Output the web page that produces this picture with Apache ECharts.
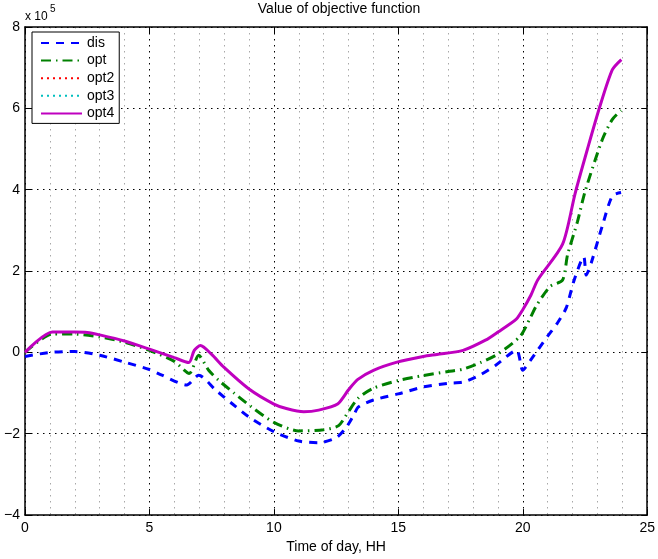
<!DOCTYPE html>
<html>
<head>
<meta charset="utf-8">
<script src="https://cdn.jsdelivr.net/npm/echarts@6/dist/echarts.min.js"></script>
<style>
html,body{margin:0;padding:0;background:#fff;}
#chart{width:658px;height:559px;}
</style>
</head>
<body>
<div id="chart"></div>
<script>
// ---- data (values in units of 1e5) ----
const seriesNames = ['dis', 'opt', 'opt2', 'opt3', 'opt4'];
const xTicks = [0, 5, 10, 15, 20, 25];
const yTicks = [-4, -2, 0, 2, 4, 6, 8];

const disHours = [0, 1, 2, 3, 4, 5, 5.5, 6.5, 6.98, 7.65, 8.3, 9, 10, 11, 11.8, 12.5, 12.9, 13.2, 13.4, 14, 15, 16, 17, 17.6, 18.3, 18.9, 19.75, 20.0, 20.3, 21, 21.4, 21.75, 22.05, 22.45, 22.55, 22.75, 23.2, 23.6, 23.95];
const disValues = [-0.1, 0.0, 0.02, -0.07, -0.24, -0.42, -0.56, -0.8, -0.56, -0.92, -1.25, -1.59, -1.95, -2.18, -2.22, -2.1, -1.85, -1.55, -1.34, -1.17, -1.02, -0.85, -0.76, -0.73, -0.55, -0.32, 0.05, -0.44, -0.2, 0.4, 0.73, 1.1, 1.75, 2.35, 1.9, 2.2, 3.12, 3.85, 3.93];

const optHours = [0, 1.1, 2, 3, 4, 5, 6, 6.6, 6.98, 7.38, 7.77, 8.4, 9.1, 10, 11, 12, 12.6, 13, 13.4, 14, 15, 16, 17, 17.6, 18.3, 19, 19.9, 20.3, 20.55, 21.1, 21.6, 21.8, 22.2, 22.5, 23.2, 23.6, 23.95];
const optValues = [0, 0.45, 0.45, 0.38, 0.25, 0.05, -0.22, -0.52, -0.07, -0.44, -0.68, -1.0, -1.34, -1.72, -1.93, -1.9, -1.8, -1.45, -1.12, -0.88, -0.69, -0.57, -0.47, -0.41, -0.25, -0.04, 0.4, 0.85, 1.15, 1.62, 1.78, 2.4, 3.22, 3.95, 5.24, 5.73, 5.95];

const opt4Hours = [0, 1.1, 2, 2.5, 3, 4, 5, 6, 6.58, 6.8, 7.05, 7.5, 8, 9, 10, 10.5, 11.2, 11.8, 12.56, 13, 13.36, 14, 14.95, 16, 16.55, 17.6, 18.5, 19, 19.74, 20.0, 20.33, 20.6, 21.6, 22.1, 22.6, 23.1, 23.6, 23.96];
const opt4Values = [0, 0.5, 0.5, 0.49, 0.43, 0.28, 0.08, -0.13, -0.25, 0.05, 0.17, -0.05, -0.37, -0.9, -1.27, -1.38, -1.46, -1.42, -1.27, -0.92, -0.67, -0.44, -0.24, -0.1, -0.05, 0.05, 0.3, 0.5, 0.82, 1.05, 1.41, 1.78, 2.66, 3.9, 5.0, 6.05, 6.95, 7.2];

// opt2 and opt3 coincide with opt4 (hidden beneath it)
const opt2Hours = opt4Hours.slice();
const opt2Values = opt4Values.slice();
const opt3Hours = opt4Hours.slice();
const opt3Values = opt4Values.slice();

function pairs(h, v) { return h.map((x, i) => [x, v[i]]); }

const FONT = '"Liberation Sans", Arial, Helvetica, sans-serif';
const chart = echarts.init(document.getElementById('chart'), null, {renderer: 'canvas'});

function minus(v) { return v < 0 ? '\u2212' + Math.abs(v) : String(v); }

function lineSeries(name, h, v, color, width, type, z) {
  return {
    name: name, type: 'line', symbol: 'none', showSymbol: false,
    smooth: 0.25,
    data: pairs(h, v),
    lineStyle: {color: color, width: width, type: type},
    itemStyle: {color: color, opacity: 0},
    z: z
  };
}

const option = {
  animation: false,
  backgroundColor: '#fff',
  textStyle: {fontFamily: FONT},
  title: {
    text: 'Value of objective function',
    left: 339, top: 2, textAlign: 'center', padding: 0,
    textStyle: {fontFamily: FONT, fontSize: 14, fontWeight: 'normal', color: '#000'}
  },
  graphic: [{
    type: 'text', left: 25, top: 11,
    style: {text: 'x 10', font: '12px ' + FONT, fill: '#000'}
  }, {
    type: 'text', left: 50, top: 4,
    style: {text: '5', font: '10px ' + FONT, fill: '#000'}
  }],
  legend: {
    data: seriesNames,
    orient: 'vertical',
    left: 32, top: 32,
    padding: [4, 5, 3, 8],
    itemWidth: 41, itemHeight: 14, itemGap: 3.6,
    backgroundColor: '#fff', borderColor: '#000', borderWidth: 1,
    itemStyle: {opacity: 0},
    textStyle: {fontFamily: FONT, fontSize: 14, color: '#000'}
  },
  grid: {left: 25, right: 6, top: 27, bottom: 40, containLabel: false},
  xAxis: [{
    type: 'value', min: xTicks[0], max: xTicks[xTicks.length - 1], interval: 5,
    position: 'bottom',
    name: 'Time of day, HH', nameLocation: 'middle', nameGap: 23,
    nameTextStyle: {fontFamily: FONT, fontSize: 14, color: '#000'},
    axisLine: {show: true, onZero: false, lineStyle: {color: '#000', width: 1.5}},
    axisTick: {show: true, inside: true, length: 6, lineStyle: {color: '#000', width: 1}},
    axisLabel: {fontFamily: FONT, fontSize: 14, color: '#000', margin: 6},
    splitLine: {show: true, lineStyle: {color: '#000', width: 1, type: [1.5, 4.5]}},
    minorTick: {show: false, splitNumber: 5},
    minorSplitLine: {show: true, lineStyle: {color: '#a8a8a8', width: 1, type: [1.5, 4.5]}}
  }, {
    type: 'value', min: 0, max: 25, interval: 5, position: 'top',
    axisLine: {show: true, onZero: false, lineStyle: {color: '#000', width: 1.5}},
    axisTick: {show: true, inside: true, length: 6, lineStyle: {color: '#000', width: 1}},
    axisLabel: {show: false}, splitLine: {show: false}
  }],
  yAxis: [{
    type: 'value', min: yTicks[0], max: yTicks[yTicks.length - 1], interval: 2,
    position: 'left',
    axisLine: {show: true, onZero: false, lineStyle: {color: '#000', width: 1.5}},
    axisTick: {show: true, inside: true, length: 6, lineStyle: {color: '#000', width: 1}},
    axisLabel: {fontFamily: FONT, fontSize: 14, color: '#000', margin: 5, formatter: minus},
    splitLine: {show: true, lineStyle: {color: '#000', width: 1, type: [1.5, 4.5]}}
  }, {
    type: 'value', min: -4, max: 8, interval: 2, position: 'right',
    axisLine: {show: true, onZero: false, lineStyle: {color: '#000', width: 1.5}},
    axisTick: {show: true, inside: true, length: 6, lineStyle: {color: '#000', width: 1}},
    axisLabel: {show: false}, splitLine: {show: false}
  }],
  series: [
    lineSeries('dis', disHours, disValues, '#0000ff', 3, [8, 7], 2),
    lineSeries('opt', optHours, optValues, '#008000', 3, [10, 5, 1.5, 5], 3),
    lineSeries('opt2', opt2Hours, opt2Values, '#ff0000', 1, [2, 4], 4),
    lineSeries('opt3', opt3Hours, opt3Values, '#00bfbf', 1, [2, 4], 5),
    lineSeries('opt4', opt4Hours, opt4Values, '#bf00bf', 3, 'solid', 6)
  ]
};
chart.setOption(option);
</script>
</body>
</html>
